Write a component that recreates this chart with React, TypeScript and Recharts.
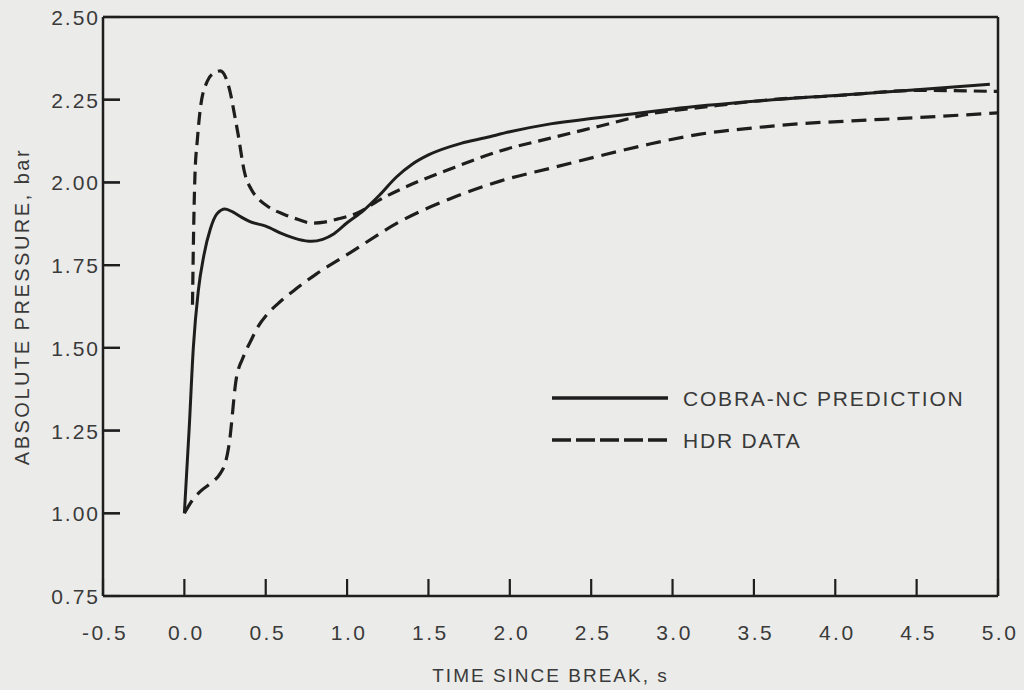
import React from 'react';
import { LineChart, Line, XAxis, YAxis, CartesianGrid } from 'recharts';

/* ── Data ─────────────────────────────────────────── */
const cobraTime = [0.0, 0.03, 0.055, 0.085, 0.12, 0.16, 0.2, 0.25, 0.3, 0.35, 0.4, 0.5, 0.6, 0.7, 0.78, 0.85, 0.92, 1.0, 1.1, 1.2, 1.3, 1.4, 1.5, 1.7, 1.85, 2.0, 2.25, 2.5, 2.75, 3.0, 3.5, 4.0, 4.5, 4.95];
const cobraPressure = [1.0, 1.26, 1.5, 1.67, 1.78, 1.86, 1.905, 1.92, 1.91, 1.895, 1.882, 1.868, 1.845, 1.828, 1.822, 1.828, 1.845, 1.878, 1.915, 1.962, 2.015, 2.055, 2.083, 2.118, 2.135, 2.153, 2.177, 2.193, 2.207, 2.222, 2.245, 2.263, 2.28, 2.297];

const hdrUpperTime = [0.05, 0.055, 0.065, 0.08, 0.1, 0.14, 0.18, 0.22, 0.26, 0.28, 0.31, 0.33, 0.37, 0.41, 0.45, 0.52, 0.61, 0.7, 0.78, 0.86, 0.94, 1.06, 1.22, 1.4, 1.63, 1.94, 2.25, 2.55, 2.86, 3.2, 3.6, 4.0, 4.5, 5.0];
const hdrUpperPressure = [1.63, 1.8, 2.02, 2.13, 2.23, 2.305, 2.33, 2.337, 2.31, 2.276, 2.2, 2.146, 2.03, 1.98, 1.953, 1.925, 1.904, 1.888, 1.877, 1.88, 1.889, 1.907, 1.953, 1.995, 2.04, 2.095, 2.134, 2.17, 2.207, 2.228, 2.25, 2.262, 2.278, 2.275];

const hdrLowerTime = [0.0, 0.05, 0.1, 0.16, 0.22, 0.25, 0.268, 0.282, 0.293, 0.303, 0.311, 0.32, 0.335, 0.354, 0.38, 0.404, 0.45, 0.51, 0.59, 0.67, 0.81, 1.02, 1.33, 1.63, 1.94, 2.25, 2.55, 2.86, 3.17, 3.5, 3.8, 4.1, 4.5, 5.0];
const hdrLowerPressure = [1.0, 1.04, 1.067, 1.09, 1.12, 1.15, 1.188, 1.235, 1.288, 1.34, 1.378, 1.41, 1.44, 1.463, 1.493, 1.517, 1.562, 1.602, 1.64, 1.672, 1.723, 1.788, 1.883, 1.95, 2.004, 2.043, 2.08, 2.116, 2.146, 2.165, 2.178, 2.186, 2.196, 2.21];

const xTicks = [-0.5, 0, 0.5, 1, 1.5, 2, 2.5, 3, 3.5, 4, 4.5, 5];
const yTicks = [0.75, 1.0, 1.25, 1.5, 1.75, 2.0, 2.25, 2.5];

const toPoints = (t: number[], p: number[]) => t.map((x, i) => ({ t: x, p: p[i] }));
const cobra = toPoints(cobraTime, cobraPressure);
const hdrUpper = toPoints(hdrUpperTime, hdrUpperPressure);
const hdrLower = toPoints(hdrLowerTime, hdrLowerPressure);

/* ── Styles ───────────────────────────────────────── */
const INK = '#1e1e1e';
const TEXT = '#3a3a3a';
const FONT = '"Liberation Sans", Arial, sans-serif';
const BG = '#ebebe9';
const TICK_LEN = 17;

// ticks point inward (negative tickSize), so the label is pushed back out by hand
const XTick = (props: any) => {
    const { x, y, payload } = props;
    return (
        <text x={x + 2} y={y + TICK_LEN + 44} textAnchor="middle" fontSize={21} letterSpacing={2.5} fill={TEXT} fontFamily={FONT}>
            {(payload.value as number).toFixed(1)}
        </text>
    );
};

// x here is the inner end of the tick, so the mark runs back to the axis
const YTick = (props: any) => {
    const { x, y, payload } = props;
    const v = payload.value as number;
    return (
        <g>
            {v > 0.75 && v < 2.5 && <line x1={x - TICK_LEN} x2={x} y1={y} y2={y} stroke={INK} strokeWidth={2.2} />}
            <text x={x - TICK_LEN - 3} y={y + 8} textAnchor="end" fontSize={21} letterSpacing={2} fill={TEXT} fontFamily={FONT}>
                {v.toFixed(2)}
            </text>
        </g>
    );
};

// top and right edges of the box come from the plot offset
const frameTop = ({ offset }: any) => (offset ? [offset.top] : []);
const frameRight = ({ offset }: any) => (offset ? [offset.left + offset.width] : []);

const Legend = () => (
    <svg width={440} height={80} style={{ position: 'absolute', left: 545, top: 378 }}>
        <line x1={7} x2={123} y1={20} y2={20} stroke={INK} strokeWidth={3.5} />
        <text x={138} y={28} fontSize={21} letterSpacing={1.8} fill={TEXT} fontFamily={FONT}>COBRA-NC PREDICTION</text>
        <line x1={7} x2={123} y1={62} y2={62} stroke={INK} strokeWidth={3.5} strokeDasharray="19 5" />
        <text x={138} y={70} fontSize={21} letterSpacing={1.8} fill={TEXT} fontFamily={FONT}>HDR DATA</text>
    </svg>
);

export default function App() {
    return (
        <div style={{ position: 'absolute', left: 0, top: 0, width: 1024, height: 690, background: BG }}>
            <LineChart width={1024} height={690} margin={{ top: 17, right: 26, left: 0, bottom: 0 }}>
                <CartesianGrid
                    stroke={INK}
                    strokeWidth={2.5}
                    horizontalCoordinatesGenerator={frameTop}
                    verticalCoordinatesGenerator={frameRight}
                />
                <XAxis
                    type="number"
                    dataKey="t"
                    domain={[-0.5, 5]}
                    ticks={xTicks}
                    allowDataOverflow
                    height={94}
                    tickSize={-TICK_LEN}
                    tickMargin={0}
                    tickLine={{ stroke: INK, strokeWidth: 2.2 }}
                    tick={<XTick />}
                    interval={0}
                    axisLine={{ stroke: INK, strokeWidth: 2.5 }}
                    label={{ value: 'TIME SINCE BREAK, s', position: 'insideBottom', offset: 8, fill: TEXT, fontSize: 19, letterSpacing: 2, fontFamily: FONT }}
                />
                <YAxis
                    type="number"
                    dataKey="p"
                    domain={[0.75, 2.5]}
                    ticks={yTicks}
                    allowDataOverflow
                    width={103}
                    tickSize={-TICK_LEN}
                    tickMargin={0}
                    tickLine={{ stroke: INK, strokeWidth: 2.2 }}
                    tick={<YTick />}
                    interval={0}
                    axisLine={{ stroke: INK, strokeWidth: 2.5 }}
                    label={{ value: 'ABSOLUTE PRESSURE, bar', angle: -90, position: 'insideLeft', offset: 22, fill: TEXT, fontSize: 20, letterSpacing: 2.5, fontFamily: FONT, style: { textAnchor: 'middle' } }}
                />
                {/* inward tick marks again, from a mirrored axis sitting on the plot's left edge */}
                <YAxis
                    yAxisId="ticks"
                    mirror
                    orientation="left"
                    type="number"
                    domain={[0.75, 2.5]}
                    ticks={yTicks}
                    allowDataOverflow
                    width={1}
                    tickSize={TICK_LEN}
                    tick={false}
                    axisLine={false}
                    tickLine={{ stroke: INK, strokeWidth: 2.2 }}
                    interval={0}
                />
                <Line data={hdrLower} dataKey="p" type="monotone" stroke={INK} strokeWidth={3.2} strokeDasharray="15 8" dot={false} isAnimationActive={false} />
                <Line data={hdrUpper} dataKey="p" type="monotone" stroke={INK} strokeWidth={3.2} strokeDasharray="13 7" dot={false} isAnimationActive={false} />
                <Line data={cobra} dataKey="p" type="monotone" stroke={INK} strokeWidth={3} dot={false} isAnimationActive={false} />
            </LineChart>
            <Legend />
        </div>
    );
}
